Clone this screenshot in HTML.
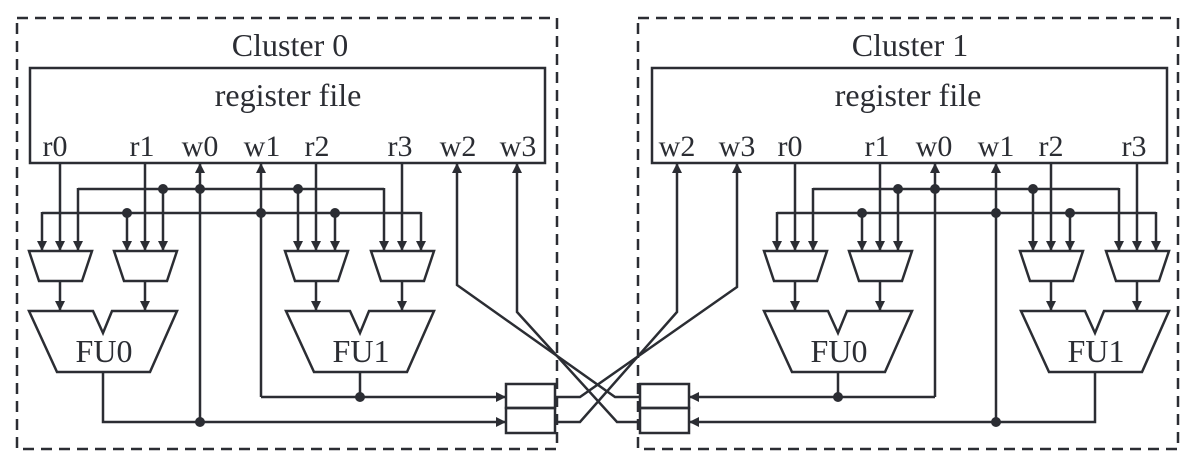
<!DOCTYPE html>
<html><head><meta charset="utf-8"><style>
html,body{margin:0;padding:0;background:#fff;}
svg{display:block;}
text{font-family:"Liberation Serif",serif;fill:#2b2d33;}
</style></head><body>
<svg width="1195" height="464" viewBox="0 0 1195 464" xmlns="http://www.w3.org/2000/svg">
<defs>
<marker id="a" viewBox="0 0 10 10" refX="10" refY="5" markerWidth="10" markerHeight="10" markerUnits="userSpaceOnUse" orient="auto">
<path d="M0,0 L10,5 L0,10 z" fill="#2b2d33"/>
</marker>
<g id="core" stroke="#2b2d33" stroke-width="2.5" fill="none">
  <line x1="60" y1="163" x2="60" y2="251" marker-end="url(#a)"/>
  <line x1="145" y1="163" x2="145" y2="251" marker-end="url(#a)"/>
  <line x1="316" y1="163" x2="316" y2="251" marker-end="url(#a)"/>
  <line x1="402" y1="163" x2="402" y2="251" marker-end="url(#a)"/>
  <polyline points="78,189 384,189"/>
  <polyline points="42,213 421,213"/>
  <line x1="78" y1="188" x2="78" y2="251" marker-end="url(#a)"/>
  <line x1="384" y1="188" x2="384" y2="251" marker-end="url(#a)"/>
  <line x1="42" y1="212" x2="42" y2="251" marker-end="url(#a)"/>
  <line x1="421" y1="212" x2="421" y2="251" marker-end="url(#a)"/>
  <line x1="163" y1="189" x2="163" y2="251" marker-end="url(#a)"/>
  <line x1="298" y1="189" x2="298" y2="251" marker-end="url(#a)"/>
  <line x1="127" y1="213" x2="127" y2="251" marker-end="url(#a)"/>
  <line x1="335" y1="213" x2="335" y2="251" marker-end="url(#a)"/>
  <polygon points="29,251 92,251 82,281 39,281"/>
  <polygon points="114,251 177,251 167,281 124,281"/>
  <polygon points="285,251 348,251 338,281 295,281"/>
  <polygon points="371,251 434,251 424,281 381,281"/>
  <line x1="60" y1="281" x2="60" y2="311" marker-end="url(#a)"/>
  <line x1="145" y1="281" x2="145" y2="311" marker-end="url(#a)"/>
  <line x1="316" y1="281" x2="316" y2="311" marker-end="url(#a)"/>
  <line x1="402" y1="281" x2="402" y2="311" marker-end="url(#a)"/>
  <polygon points="29,311 93,311 103,333 112,311 177,311 150,372 57,372"/>
  <polygon points="286,311 350,311 360,333 369,311 434,311 407,372 314,372"/>
</g>
<g id="dots" fill="#2b2d33">
  <circle cx="163" cy="189" r="5"/><circle cx="200" cy="189" r="5"/><circle cx="298" cy="189" r="5"/>
  <circle cx="127" cy="213" r="5"/><circle cx="261" cy="213" r="5"/><circle cx="335" cy="213" r="5"/>
</g>
</defs>

<g stroke="#2b2d33" stroke-width="2.5" fill="none">
  <rect x="17" y="18" width="540" height="431" stroke-dasharray="11,7"/>
  <rect x="638" y="18" width="540" height="431" stroke-dasharray="11,7"/>
  <rect x="30" y="68" width="515" height="95"/>
  <rect x="652" y="68" width="515" height="95"/>
</g>

<use href="#core"/>
<use href="#dots"/>
<use href="#core" transform="translate(735,0)"/>
<use href="#dots" transform="translate(735,0)"/>

<g stroke="#2b2d33" stroke-width="2.5" fill="none">
  <line x1="200" y1="422" x2="200" y2="163" marker-end="url(#a)"/>
  <line x1="261" y1="397" x2="261" y2="163" marker-end="url(#a)"/>
  <polyline points="103,372 103,422 506,422" marker-end="url(#a)"/>
  <line x1="360" y1="372" x2="360" y2="397"/>
  <polyline points="261,397 506,397" marker-end="url(#a)"/>
  <line x1="935" y1="397" x2="935" y2="163" marker-end="url(#a)"/>
  <line x1="996" y1="422" x2="996" y2="163" marker-end="url(#a)"/>
  <line x1="838" y1="372" x2="838" y2="397"/>
  <polyline points="935,397 689,397" marker-end="url(#a)"/>
  <polyline points="1095,372 1095,422 689,422" marker-end="url(#a)"/>
  <rect x="506" y="384" width="49" height="24"/>
  <rect x="506" y="408" width="49" height="25"/>
  <rect x="640" y="384" width="49" height="24"/>
  <rect x="640" y="408" width="49" height="25"/>
  <polyline points="555,397 580,397 737,287 737,163" marker-end="url(#a)"/>
  <polyline points="555,422 580,422 677,312 677,163" marker-end="url(#a)"/>
  <polyline points="640,397 615,397 457,285 457,163" marker-end="url(#a)"/>
  <polyline points="640,422 617,422 517,312 517,163" marker-end="url(#a)"/>
</g>
<g fill="#2b2d33">
  <circle cx="200" cy="422" r="5"/><circle cx="360" cy="397" r="5"/>
  <circle cx="838" cy="397" r="5"/><circle cx="996" cy="422" r="5"/>
</g>

<g font-size="32" text-anchor="middle">
  <text x="290" y="56">Cluster 0</text>
  <text x="910" y="56">Cluster 1</text>
  <text x="288" y="106">register file</text>
  <text x="908" y="106">register file</text>
</g>
<g font-size="30" text-anchor="middle">
  <text x="55" y="156">r0</text><text x="142" y="156">r1</text>
  <text x="200" y="156">w0</text><text x="262" y="156">w1</text>
  <text x="317" y="156">r2</text><text x="400" y="156">r3</text>
  <text x="458" y="156">w2</text><text x="518" y="156">w3</text>

  <text x="677" y="156">w2</text><text x="737" y="156">w3</text>
  <text x="790" y="156">r0</text><text x="877" y="156">r1</text>
  <text x="934" y="156">w0</text><text x="996" y="156">w1</text>
  <text x="1051" y="156">r2</text><text x="1134" y="156">r3</text>
</g>
<g font-size="32" text-anchor="middle">
  <text x="104" y="362">FU0</text>
  <text x="361" y="362">FU1</text>
  <text x="839" y="362">FU0</text>
  <text x="1096" y="362">FU1</text>
</g>
</svg>
</body></html>
